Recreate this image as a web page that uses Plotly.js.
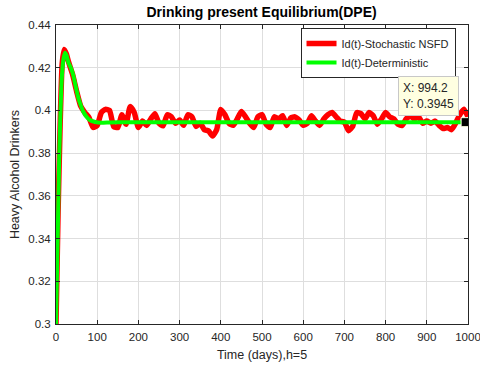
<!DOCTYPE html>
<html>
<head>
<meta charset="utf-8">
<script src="https://cdn.plot.ly/plotly-3.0.1.min.js"></script>
<style>html,body{margin:0;padding:0;background:#fff;}#chart{width:480px;height:366px;}</style>
</head>
<body>
<div id="chart"></div>
<script>
// Deterministic solution Id(t)
var tDet = [0,2,4,6,8,11,14,18,22,26,30,36,42,48,54,60,66,74,82,95,110,130,150,1000];
var idDet = [0.300,0.320,0.340,0.360,0.380,0.400,0.415,0.424,0.427,0.4255,0.4225,0.420,0.4165,0.411,0.406,0.4025,0.3995,0.397,0.3955,0.3946,0.3942,0.3944,0.3945,0.3945];

// Stochastic NSFD solution Id(t)
var tSto = [0,5,10,15,20,25,30,40,50,60,70,80,90,100,110,120,130,140,150,160,170,180,190,200,
  210,220,230,240,250,260,270,280,290,300,310,320,330,340,350,360,370,380,390,400,
  410,420,430,440,450,460,470,480,490,500,510,520,530,540,550,560,570,580,590,600,
  610,620,630,640,650,660,670,680,690,700,710,720,730,740,750,760,770,780,790,800,
  810,820,830,840,850,860,870,880,890,900,910,920,930,940,950,960,970,980,990,1000];
var idSto = [0.300,0.352,0.393,0.422,0.4285,0.4265,0.423,0.417,0.409,0.402,0.399,0.3967,0.392,0.393,0.399,0.4005,0.400,0.3925,0.392,0.398,0.3935,0.4018,0.399,0.392,
  0.395,0.393,0.396,0.3985,0.394,0.3928,0.398,0.397,0.394,0.3955,0.393,0.398,0.397,0.3925,0.394,0.391,0.3905,0.388,0.391,0.4005,
  0.398,0.394,0.393,0.396,0.3995,0.397,0.394,0.392,0.397,0.398,0.3935,0.392,0.397,0.396,0.3975,0.393,0.3965,0.397,0.3955,0.393,
  0.394,0.3975,0.395,0.393,0.396,0.398,0.399,0.397,0.395,0.3945,0.3905,0.3925,0.399,0.3985,0.396,0.399,0.3975,0.3935,0.396,0.399,
  0.397,0.396,0.3935,0.393,0.396,0.3975,0.396,0.397,0.394,0.395,0.394,0.395,0.393,0.3915,0.392,0.391,0.394,0.398,0.4005,0.397];

// Data tip
var tipX = [994.2];
var tipY = [0.3945];

var axisColor = '#262626';
var gridColor = '#dedede';
var FAM = 'Liberation Sans, Arial, sans-serif';

var traces = [
  {x: tSto, y: idSto, mode: 'lines', name: 'Id(t)-Stochastic NSFD',
   line: {color: '#ff0000', width: 5.5, shape: 'spline', smoothing: 0.5}},
  {x: tDet, y: idDet, mode: 'lines', name: 'Id(t)-Deterministic',
   line: {color: '#00ff00', width: 4, shape: 'spline', smoothing: 0.5}},
  {x: tipX, y: tipY, mode: 'markers', showlegend: false, hoverinfo: 'skip',
   marker: {symbol: 'square', color: '#000000', size: 9, line: {color: '#ffffe1', width: 1}}}
];

var layout = {
  width: 480, height: 366,
  paper_bgcolor: '#ffffff', plot_bgcolor: '#ffffff',
  margin: {l: 56, r: 11.5, t: 24.7, b: 42},
  font: {family: FAM, size: 11, color: axisColor},
  showlegend: true,
  title: {text: '<b>Drinking present Equilibrium(DPE)</b>', x: 0.545, xanchor: 'center', y: 0.967, yanchor: 'middle',
          font: {family: FAM, size: 14, color: '#000000'}},
  xaxis: {
    range: [0, 1000], dtick: 100, tick0: 0,
    showgrid: true, gridcolor: gridColor, gridwidth: 1,
    zeroline: false, showline: true, linecolor: axisColor, linewidth: 1, mirror: 'ticks',
    ticks: 'inside', ticklen: 4, tickcolor: axisColor,
    ticklabeloverflow: 'allow', ticklabelstandoff: 2,
    tickfont: {family: FAM, size: 11.5, color: axisColor},
    title: {text: 'Time (days),h=5', standoff: 8,
            font: {family: FAM, size: 12.5, color: axisColor}}
  },
  yaxis: {
    range: [0.3, 0.44], dtick: 0.02, tick0: 0.3,
    showgrid: true, gridcolor: gridColor, gridwidth: 1,
    zeroline: false, showline: true, linecolor: axisColor, linewidth: 1, mirror: 'ticks',
    ticks: 'inside', ticklen: 4, tickcolor: axisColor,
    ticklabelstandoff: 2,
    tickfont: {family: FAM, size: 11.5, color: axisColor},
    title: {text: 'Heavy Alcohol Drinkers', standoff: 5,
            font: {family: FAM, size: 12.5, color: axisColor}}
  },
  legend: {
    x: 0.9697, xanchor: 'right', y: 0.99, yanchor: 'top',
    bgcolor: '#ffffff', bordercolor: axisColor, borderwidth: 1,
    font: {family: FAM, size: 11, color: axisColor},
    tracegroupgap: 0, itemwidth: 30
  },
  annotations: [{
    x: tipX[0], y: tipY[0], xref: 'x', yref: 'y',
    text: 'X: ' + tipX[0] + '<br>Y: ' + tipY[0],
    showarrow: false, xanchor: 'center', yanchor: 'middle',
    xshift: -37.5, yshift: 26.5,
    align: 'left', bgcolor: '#ffffe1', bordercolor: '#c8c8c8', borderwidth: 1, borderpad: 4,
    font: {family: FAM, size: 12, color: axisColor}
  }]
};

Plotly.newPlot('chart', traces, layout, {displayModeBar: false, staticPlot: true});
</script>
</body>
</html>
